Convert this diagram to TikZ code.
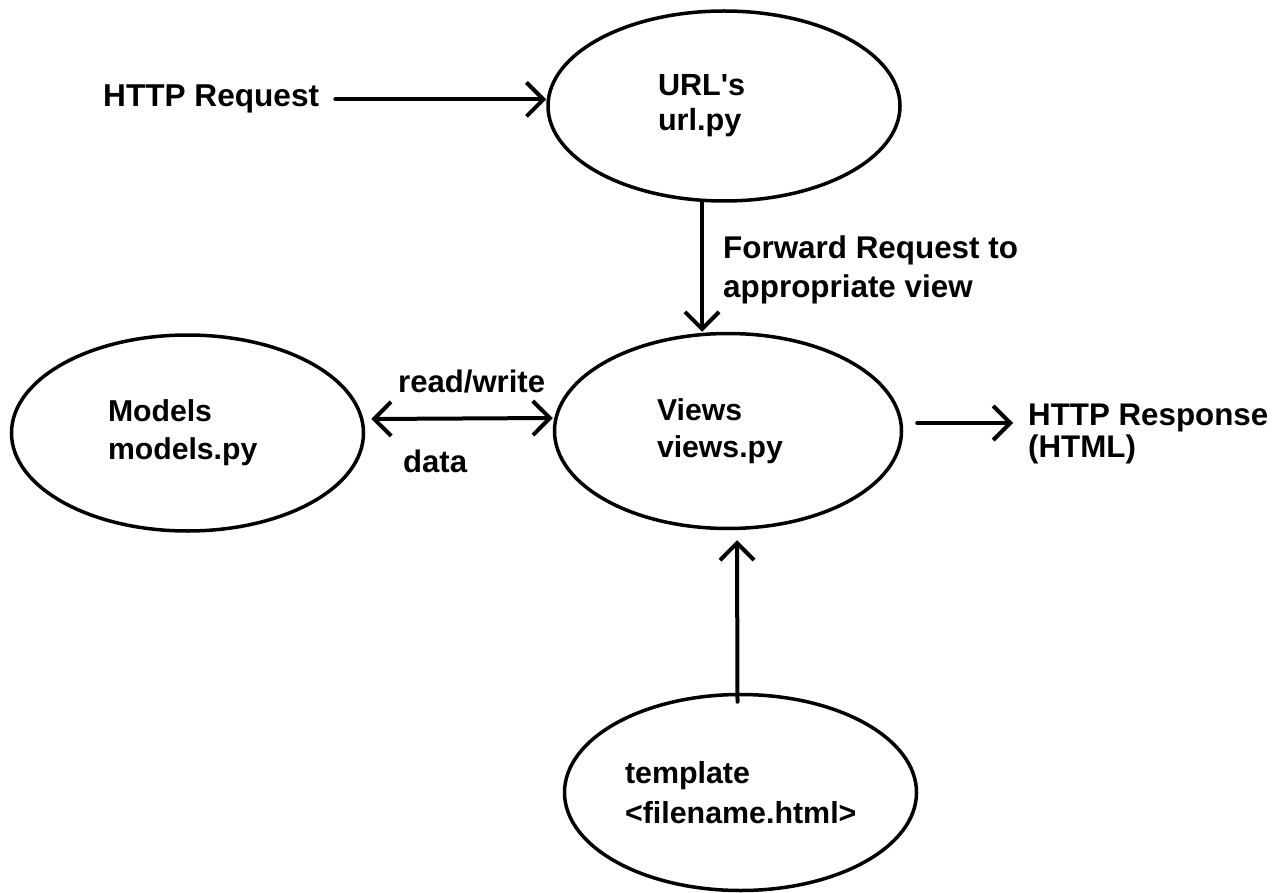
\documentclass[tikz,border=0pt]{standalone}
\usepackage{fontspec}
\setmainfont{Liberation Sans}[Ligatures=TeXOff]
\usetikzlibrary{shapes.geometric,arrows.meta}
\begin{document}
\begin{tikzpicture}[x=1pt,y=-1pt,
  >={Straight Barb[length=17pt,width=34pt]},
  ell/.style={ellipse, draw, line width=3.5pt, inner sep=0pt, align=left},
  fnt/.style 2 args={font=\bfseries\fontsize{#1}{#2}\selectfont},
  lbl/.style={inner sep=0pt, align=left, anchor=base west},
  arr/.style={line width=4pt, line cap=round},
]
\fill[white] (0,0) rectangle (1287,893);
\useasboundingbox (0,0) rectangle (1287,893);

% ellipses
\node[ell, fnt={30.6}{35}, minimum width=352pt, minimum height=190pt, text width=132pt] (url) at (724,106) {URL's\\url.py};
\node[ell, fnt={30.2}{38}, minimum width=352pt, minimum height=196pt, text width=159pt] (models) at (187.5,433) {Models\\models.py};
\node[ell, fnt={30.2}{37}, minimum width=347pt, minimum height=195pt, text width=142pt] (views) at (728,431) {Views\\views.py};
\node[ell, fnt={30.4}{40}, minimum width=352pt, minimum height=196pt, text width=231pt] (tmpl) at (740.5,792.5) {template\\<filename.html>};

% free labels (base anchor = baseline of the last line)
\node[lbl, fnt={31.6}{38}] (req) at (103,107) {HTTP Request};
\node[lbl, fnt={31.4}{38}] (fwd) at (723,297) {Forward Request to\\appropriate view};
\node[lbl, fnt={31.1}{38}] (rw) at (398,392) {read/write};
\node[lbl, fnt={31.1}{38}] (data) at (403,472) {data};
\node[lbl, fnt={31.3}{32}] (resp) at (1028,457) {HTTP Response\\(HTML)};

% connectors
\draw[arr,->] ([xshift=16pt]req.east) -- (req.east -| url.west);
\draw[arr,->] ([xshift=-22pt]url.south) -- ([xshift=-26pt]views.north);
\draw[arr,<->] ([xshift=6pt,yshift=14pt]models.east) -- ([yshift=13pt]views.west);
\draw[arr,->] ([xshift=14pt,yshift=8pt]views.east) -- ([xshift=-15pt,yshift=34pt]resp.base west);
\draw[arr,->] ([xshift=-3pt,yshift=-9pt]tmpl.north) -- ([xshift=9pt,yshift=-10pt]views.south);
\end{tikzpicture}
\end{document}
